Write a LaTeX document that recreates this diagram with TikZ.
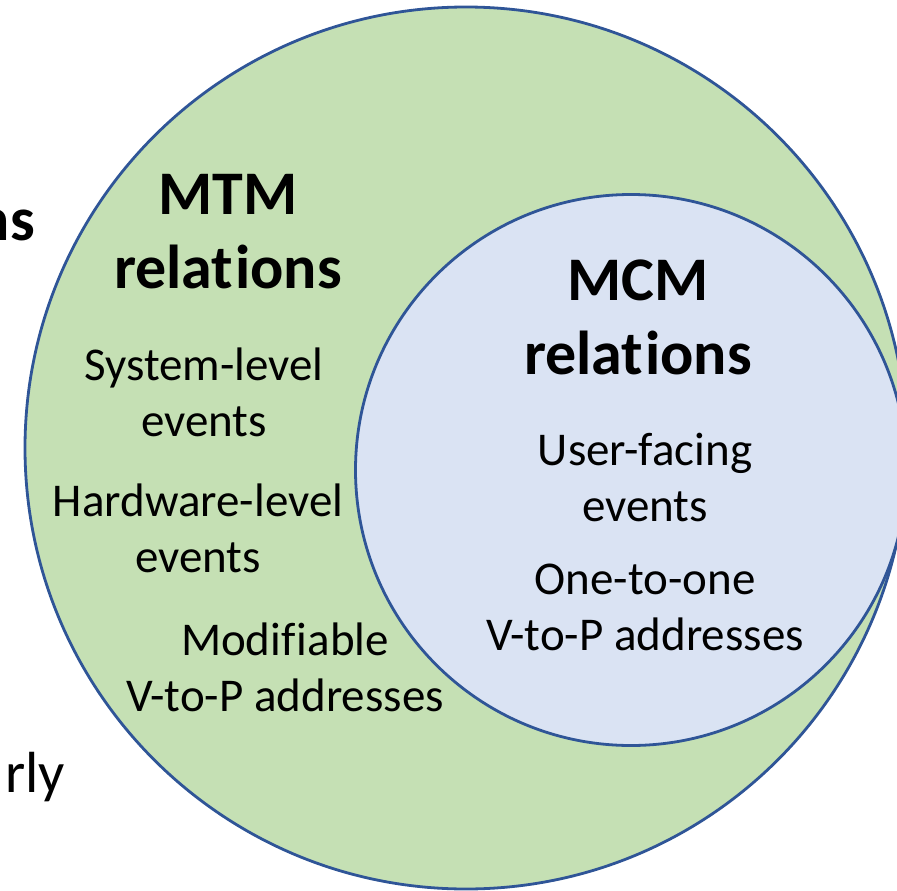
\documentclass[tikz,border=0pt]{standalone}
\usepackage{fontspec}
\setmainfont{Carlito}[RawFeature={-liga;-clig;-calt;-dlig}]
\definecolor{outerfill}{HTML}{C5E0B4}
\definecolor{innerfill}{HTML}{DAE3F3}
\definecolor{ringline}{HTML}{2F5597}
\begin{document}
\begin{tikzpicture}[x=1pt,y=-1pt,
  ring/.style={draw=ringline,line width=2.8pt},
  bigtxt/.style={font=\fontsize{62}{74}\selectfont\bfseries,align=center,inner sep=0pt},
  smalltxt/.style={font=\fontsize{47}{56}\selectfont,align=center,inner sep=0pt},
  sidetxt/.style={font=\fontsize{58}{70}\selectfont,inner sep=0pt}]
\useasboundingbox (0,0) rectangle (897,891);
\node[ring,fill=outerfill,circle,minimum size=882pt,inner sep=0pt] (outer) at (466,448) {};
\node[ring,fill=innerfill,circle,minimum size=551pt,inner sep=0pt] (inner) at (631,470) {};
\node[bigtxt] (mtm) at (228,232) {MTM\\relat\kern2pt ions};
\node[bigtxt] (mcm) at (638,317) {MCM\\relat\kern2pt ions};
\node[smalltxt] (sys) at (204,392) {System-level\\events};
\node[smalltxt] (hw) at (198,528) {Hardware-level\\events};
\node[smalltxt] (mod) at (285,667) {Modif\kern1pt iable\\V-to-P addresses};
\node[smalltxt] (user) at (645,477) {User-facing\\events};
\node[smalltxt] (one) at (645,607) {One-to-one\\V-to-P addresses};
\node[sidetxt,font=\fontsize{62}{74}\selectfont\bfseries,anchor=base east] (ns) at (35,240) {ns};
\node[sidetxt,anchor=base east] (rly) at (65,792) {rly};
\node[sidetxt,anchor=base] (cut) at (73,935) {i};
\end{tikzpicture}
\end{document}
